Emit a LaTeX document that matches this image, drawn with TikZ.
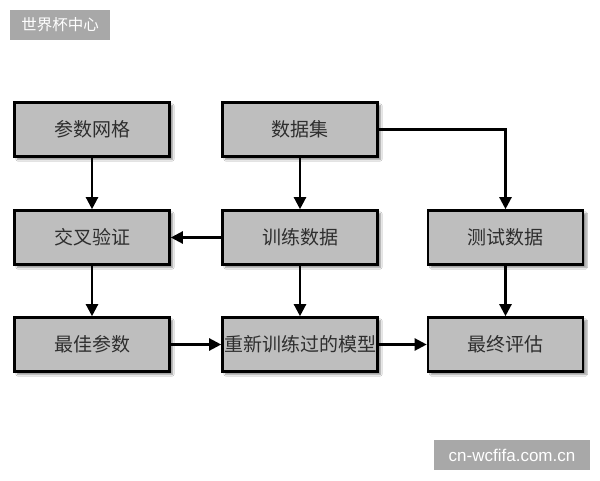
\documentclass[tikz,border=0pt]{standalone}
\usepackage{fontspec}
\newfontfamily\cjk{Noto Sans CJK SC}
\newfontfamily\latinsans{Liberation Sans}
\usetikzlibrary{arrows.meta,shadows.blur}
\definecolor{boxgray}{HTML}{BEBEBE}
\definecolor{txtgray}{HTML}{2E2E2E}
\definecolor{wmgray}{HTML}{A8A8A8}
\tikzset{
  procbox/.style={draw=black, line width=2.6pt, fill=boxgray, minimum width=155pt, minimum height=54pt,
    inner sep=0pt, text=txtgray, font=\cjk\fontsize{19}{21}\selectfont,
    blur shadow={shadow xshift=3pt, shadow yshift=-3pt, shadow blur steps=6, shadow opacity=45}},
  flow/.style={line width=2.3pt, -{Triangle[length=12pt,width=12pt]}},
  wmark/.style={fill=wmgray, text=white, inner sep=0pt}
}
\begin{document}
\begin{tikzpicture}[x=1pt,y=-1pt]
\useasboundingbox (0,0) rectangle (600,480);
\fill[white] (0,0) rectangle (600,480);
% watermarks
\node[wmark, minimum width=100pt, minimum height=30pt, font=\cjk\fontsize{15.5}{17}\selectfont] (wm1) at (60,25) {世界杯中心};
\node[wmark, minimum width=156pt, minimum height=30pt, font=\latinsans\fontsize{17}{19}\selectfont] (wm2) at (512,455) {cn-wcfifa.com.cn};
% boxes
\node[procbox] (grid) at (92,129.5) {参数网格};
\node[procbox] (data) at (300,129.5) {数据集};
\node[procbox] (cv) at (92,237.5) {交叉验证};
\node[procbox] (train) at (300,237.5) {训练数据};
\node[procbox] (test) at (505.5,237.5) {测试数据};
\node[procbox] (best) at (92,344.5) {最佳参数};
\node[procbox] (model) at (300,344.5) {重新训练过的模型};
\node[procbox] (eval) at (505.5,344.5) {最终评估};
% connectors
\draw[flow] (grid) -- (cv);
\draw[flow] (data) -- (train);
\draw[flow] (train) -- (cv);
\draw[flow] (cv) -- (best);
\draw[flow] (train) -- (model);
\draw[flow] (best) -- (model);
\draw[flow] (model) -- (eval);
\draw[flow] (test) -- (eval);
\draw[flow] (data.east) -| (test.north);
\end{tikzpicture}
\end{document}
